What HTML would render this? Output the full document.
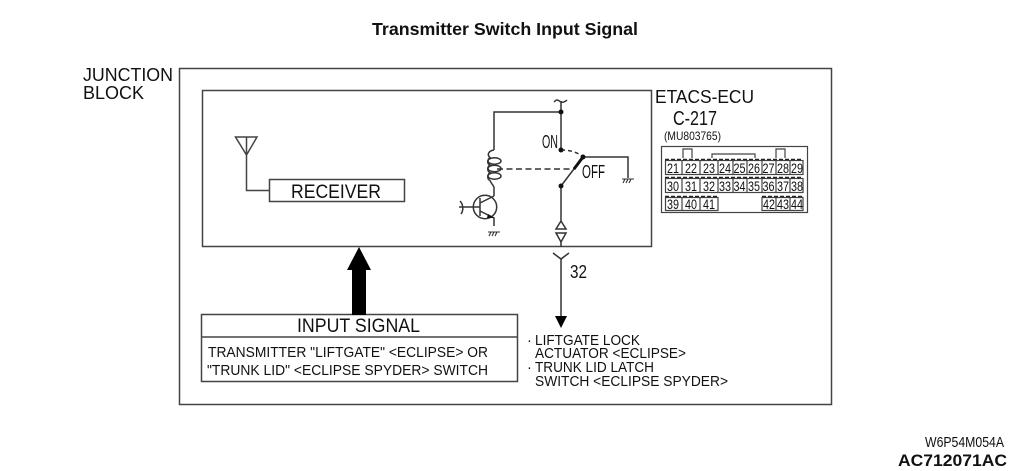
<!DOCTYPE html>
<html><head><meta charset="utf-8"><style>
html,body{margin:0;padding:0;background:#fff}
svg{display:block}
text{font-family:"Liberation Sans",sans-serif;fill:#111}
</style></head><body>
<svg width="1010" height="471" viewBox="0 0 1010 471" xmlns="http://www.w3.org/2000/svg">
<rect width="1010" height="471" fill="#fff"/>
<text x="372" y="35" font-size="17.500" font-weight="bold" textLength="266" lengthAdjust="spacingAndGlyphs">Transmitter Switch Input Signal</text>
<text x="83" y="81" font-size="18.500" textLength="90" lengthAdjust="spacingAndGlyphs">JUNCTION</text>
<text x="83" y="99" font-size="18.500" textLength="61" lengthAdjust="spacingAndGlyphs">BLOCK</text>
<g fill="none" stroke="#444" stroke-width="1.500">
<rect x="179.500" y="68.500" width="652" height="336"/>
<rect x="202.500" y="90.500" width="449" height="156"/>
<rect x="269.500" y="179.500" width="135" height="22"/>
<path d="M235.500 137H257L246.500 155ZM246.500 137V190.500H269.500"/>
<rect x="201.500" y="314.500" width="316" height="67"/>
<path d="M201.500 337H517.500"/>
</g>
<text x="291" y="198" font-size="19" textLength="90" lengthAdjust="spacingAndGlyphs">RECEIVER</text>
<text x="297" y="332" font-size="19" textLength="123" lengthAdjust="spacingAndGlyphs">INPUT SIGNAL</text>
<text x="208" y="357" font-size="14.500" textLength="280" lengthAdjust="spacingAndGlyphs">TRANSMITTER "LIFTGATE" &lt;ECLIPSE&gt; OR</text>
<text x="207" y="375" font-size="14.500" textLength="281" lengthAdjust="spacingAndGlyphs">"TRUNK LID" &lt;ECLIPSE SPYDER&gt; SWITCH</text>
<path d="M352 315V270H347L359 247L371 270H366V315Z" fill="#000"/>
<g fill="none" stroke="#333" stroke-width="1.500">
<path d="M554 102C557 99 558 100 560 101.500C562 103 565 102 567 100"/>
<path d="M561 101V150M561 112H494V150M494 187V196M561 186V221M561 242V247"/>
<path d="M494 150C488 151 487 155 490 157.500C487 160 487 164 490 165C487 167 487 171 490 172.500C487 175 487 179 490 180.500C491 183 493 185 494 187"/>
<ellipse cx="494.500" cy="161" rx="6.500" ry="3.200"/>
<ellipse cx="494.500" cy="168.500" rx="6.500" ry="3.200"/>
<ellipse cx="494.500" cy="176" rx="6.500" ry="3.200"/>
<path d="M561 186L583 157M583 157H628V178"/>
<path d="M561 150Q575 150 583 157" stroke-dasharray="4 3"/>
<path d="M497 169H575" stroke-dasharray="6 3.500"/>
<circle cx="485" cy="207" r="11.700"/>
<path d="M480 198V216M459 207H480M480 203L494 196M480 211L494 218V226M460 201C463 204 464 210 461 214"/>
<path d="M561 221L556 229H566ZM556 233H566L561 242Z"/>
<path d="M553 253L561 259L569 253M561 259V318"/>
</g>
<path d="M574 169L583 157" stroke="#111" stroke-width="3"/>
<path d="M488 214L494 218L487 218Z" fill="#111"/>
<g fill="#111"><circle cx="561" cy="112" r="2.500"/><circle cx="561" cy="150" r="2.500"/><circle cx="583" cy="157" r="2.500"/><circle cx="561" cy="186" r="2.500"/></g>
<path d="M555 316H567L561 328Z" fill="#000"/>
<g fill="none" stroke="#333" stroke-width="1.100"><path d="M622 179H634M623 183L625 179M626 183L628 179M629 183L631 179M488 232H500M489 236L491 232M492 236L494 232M495 236L497 232"/></g>
<text x="542" y="148" font-size="18" textLength="16" lengthAdjust="spacingAndGlyphs">ON</text>
<text x="582" y="178" font-size="18" textLength="23" lengthAdjust="spacingAndGlyphs">OFF</text>
<text x="570" y="278" font-size="18" textLength="17" lengthAdjust="spacingAndGlyphs">32</text>
<g font-size="14.500">
<text x="527" y="345">·</text>
<text x="535" y="345" textLength="105" lengthAdjust="spacingAndGlyphs">LIFTGATE LOCK</text>
<text x="535" y="358" textLength="151" lengthAdjust="spacingAndGlyphs">ACTUATOR &lt;ECLIPSE&gt;</text>
<text x="527" y="372">·</text>
<text x="535" y="372" textLength="119" lengthAdjust="spacingAndGlyphs">TRUNK LID LATCH</text>
<text x="535" y="386" textLength="193" lengthAdjust="spacingAndGlyphs">SWITCH &lt;ECLIPSE SPYDER&gt;</text>
</g>
<text x="655" y="103" font-size="18.500" textLength="99" lengthAdjust="spacingAndGlyphs">ETACS-ECU</text>
<text x="673" y="125" font-size="20" textLength="44" lengthAdjust="spacingAndGlyphs">C-217</text>
<text x="664" y="140" font-size="12" textLength="57" lengthAdjust="spacingAndGlyphs">(MU803765)</text>
<g fill="none" stroke="#444" stroke-width="1.200">
<rect x="661.500" y="146.500" width="146" height="66"/>
<path d="M683 158V149H692V158M776 158V149H785V158M712 158V154H755V158"/>
<rect x="665.500" y="160.500" width="137.500" height="14"/>
<rect x="665.500" y="178.500" width="137.500" height="14"/>
<path d="M665.500 197.500H718V210.500H665.500ZM762 197.500H803V210.500H762Z"/>
<path d="M682 160V174M700 160V174M718 160V174M733 160V174M747 160V174M762 160V174M776 160V174M790 160V174M682 178V192M700 178V192M718 178V192M733 178V192M747 178V192M762 178V192M776 178V192M790 178V192M682 197V210M700 197V210M776 197V210M790 197V210"/>
</g>
<path d="M665 159.500H803M665 177.500H803M665 196.500H718M762 196.500H803" stroke="#222" stroke-width="1.500" stroke-dasharray="4 2"/>
<g font-size="13.500">
<text x="667" y="173" textLength="12" lengthAdjust="spacingAndGlyphs">21</text><text x="685" y="173" textLength="12" lengthAdjust="spacingAndGlyphs">22</text><text x="703" y="173" textLength="12" lengthAdjust="spacingAndGlyphs">23</text><text x="719" y="173" textLength="12" lengthAdjust="spacingAndGlyphs">24</text><text x="733.500" y="173" textLength="12" lengthAdjust="spacingAndGlyphs">25</text><text x="748" y="173" textLength="12" lengthAdjust="spacingAndGlyphs">26</text><text x="762.500" y="173" textLength="12" lengthAdjust="spacingAndGlyphs">27</text><text x="777" y="173" textLength="12" lengthAdjust="spacingAndGlyphs">28</text><text x="791" y="173" textLength="12" lengthAdjust="spacingAndGlyphs">29</text>
<text x="667" y="191" textLength="12" lengthAdjust="spacingAndGlyphs">30</text><text x="685" y="191" textLength="12" lengthAdjust="spacingAndGlyphs">31</text><text x="703" y="191" textLength="12" lengthAdjust="spacingAndGlyphs">32</text><text x="719" y="191" textLength="12" lengthAdjust="spacingAndGlyphs">33</text><text x="733.500" y="191" textLength="12" lengthAdjust="spacingAndGlyphs">34</text><text x="748" y="191" textLength="12" lengthAdjust="spacingAndGlyphs">35</text><text x="762.500" y="191" textLength="12" lengthAdjust="spacingAndGlyphs">36</text><text x="777" y="191" textLength="12" lengthAdjust="spacingAndGlyphs">37</text><text x="791" y="191" textLength="12" lengthAdjust="spacingAndGlyphs">38</text>
<text x="667" y="209" textLength="12" lengthAdjust="spacingAndGlyphs">39</text><text x="685" y="209" textLength="12" lengthAdjust="spacingAndGlyphs">40</text><text x="703" y="209" textLength="12" lengthAdjust="spacingAndGlyphs">41</text><text x="763" y="209" textLength="12" lengthAdjust="spacingAndGlyphs">42</text><text x="777" y="209" textLength="12" lengthAdjust="spacingAndGlyphs">43</text><text x="791" y="209" textLength="12" lengthAdjust="spacingAndGlyphs">44</text>
</g>
<text x="925" y="447" font-size="15" textLength="79" lengthAdjust="spacingAndGlyphs">W6P54M054A</text>
<text x="898" y="466" font-size="17" font-weight="bold" textLength="109" lengthAdjust="spacingAndGlyphs">AC712071AC</text>
</svg>
</body></html>
